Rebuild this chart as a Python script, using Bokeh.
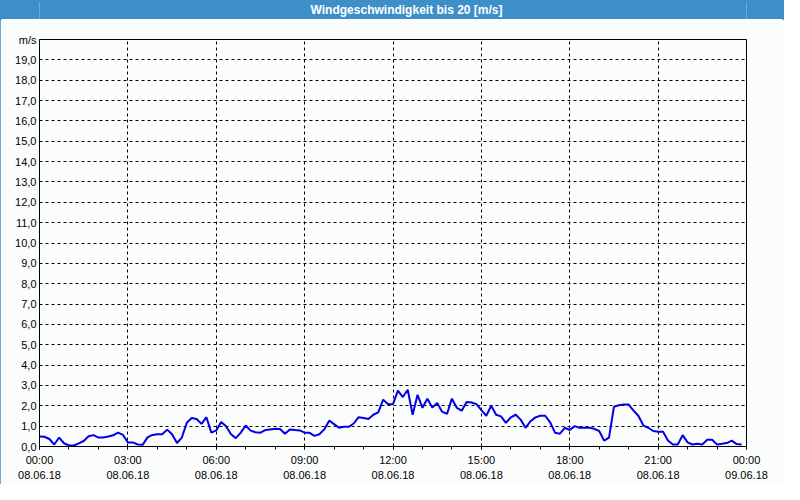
from bokeh.plotting import figure
from bokeh.layouts import column
from bokeh.models import FixedTicker, Range1d
from bokeh.core.properties import value
from bokeh.embed import file_html
from bokeh.resources import INLINE

title_text = "Windgeschwindigkeit bis 20 [m/s]"

times = [
    "00:00", "00:10", "00:20", "00:30", "00:40", "00:50",
    "01:00", "01:10", "01:20", "01:30", "01:40", "01:50",
    "02:00", "02:10", "02:20", "02:30", "02:40", "02:50",
    "03:00", "03:10", "03:20", "03:30", "03:40", "03:50",
    "04:00", "04:10", "04:20", "04:30", "04:40", "04:50",
    "05:00", "05:10", "05:20", "05:30", "05:40", "05:50",
    "06:00", "06:10", "06:20", "06:30", "06:40", "06:50",
    "07:00", "07:10", "07:20", "07:30", "07:40", "07:50",
    "08:00", "08:10", "08:20", "08:30", "08:40", "08:50",
    "09:00", "09:10", "09:20", "09:30", "09:40", "09:50",
    "10:00", "10:10", "10:20", "10:30", "10:40", "10:50",
    "11:00", "11:10", "11:20", "11:30", "11:40", "11:50",
    "12:00", "12:10", "12:20", "12:30", "12:40", "12:50",
    "13:00", "13:10", "13:20", "13:30", "13:40", "13:50",
    "14:00", "14:10", "14:20", "14:30", "14:40", "14:50",
    "15:00", "15:10", "15:20", "15:30", "15:40", "15:50",
    "16:00", "16:10", "16:20", "16:30", "16:40", "16:50",
    "17:00", "17:10", "17:20", "17:30", "17:40", "17:50",
    "18:00", "18:10", "18:20", "18:30", "18:40", "18:50",
    "19:00", "19:10", "19:20", "19:30", "19:40", "19:50",
    "20:00", "20:10", "20:20", "20:30", "20:40", "20:50",
    "21:00", "21:10", "21:20", "21:30", "21:40", "21:50",
    "22:00", "22:10", "22:20", "22:30", "22:40", "22:50",
    "23:00", "23:10", "23:20", "23:30", "23:40", "23:50",
]

speeds = [
    0.49, 0.48, 0.37, 0.10, 0.44, 0.16,
    0.05, 0.05, 0.15, 0.27, 0.50, 0.56,
    0.44, 0.44, 0.49, 0.55, 0.68, 0.57,
    0.20, 0.20, 0.10, 0.08, 0.45, 0.57,
    0.60, 0.60, 0.83, 0.60, 0.17, 0.44,
    1.17, 1.40, 1.35, 1.11, 1.44, 0.68,
    0.79, 1.20, 1.00, 0.60, 0.41, 0.68,
    1.03, 0.78, 0.70, 0.68, 0.81, 0.84,
    0.87, 0.86, 0.63, 0.84, 0.81, 0.79,
    0.68, 0.67, 0.52, 0.60, 0.84, 1.27,
    1.10, 0.92, 0.97, 0.97, 1.13, 1.44,
    1.40, 1.35, 1.56, 1.68, 2.30, 2.08,
    2.08, 2.75, 2.43, 2.79, 1.56, 2.54,
    1.90, 2.35, 1.92, 2.14, 1.71, 1.60,
    2.35, 1.90, 1.76, 2.19, 2.16, 2.08,
    1.79, 1.51, 2.00, 1.56, 1.48, 1.16,
    1.43, 1.56, 1.32, 0.92, 1.24, 1.43,
    1.51, 1.51, 1.19, 0.68, 0.63, 0.92,
    0.81, 1.00, 0.92, 0.92, 0.92, 0.87,
    0.76, 0.29, 0.44, 1.95, 2.03, 2.06,
    2.06, 1.76, 1.50, 1.03, 0.92, 0.76,
    0.73, 0.73, 0.30, 0.10, 0.10, 0.56,
    0.20, 0.10, 0.14, 0.10, 0.33, 0.33,
    0.10, 0.13, 0.17, 0.29, 0.12, 0.10,
]

x_tick_hours = [0, 3, 6, 9, 12, 15, 18, 21, 24]
x_tick_labels = [
    "00:00\n08.06.18", "03:00\n08.06.18", "06:00\n08.06.18",
    "09:00\n08.06.18", "12:00\n08.06.18", "15:00\n08.06.18",
    "18:00\n08.06.18", "21:00\n08.06.18", "00:00\n09.06.18",
]
x_minor_hours = list(range(0, 25))

y_ticks = list(range(0, 21))
y_tick_labels = [
    "0,0", "1,0", "2,0", "3,0", "4,0", "5,0", "6,0", "7,0", "8,0", "9,0",
    "10,0", "11,0", "12,0", "13,0", "14,0", "15,0", "16,0", "17,0", "18,0",
    "19,0", "m/s",
]

hours = [int(t[:2]) + int(t[3:]) / 60.0 for t in times]

BLUE = "#3d8fc7"
BG = "#fbfdfc"
FONT = "Liberation Sans"
W = 784
H = 484
TITLE_H = 19
MAIN_H = H - TITLE_H
FRAME_L, FRAME_R, FRAME_T, FRAME_B = 39, 746, 39, 446

# title bar
t = figure(width=W, height=TITLE_H, x_range=Range1d(0, W), y_range=Range1d(0, TITLE_H),
           toolbar_location=None, output_backend="svg",
           x_axis_location=None, y_axis_location=None,
           min_border=0)
t.grid.visible = False
t.outline_line_color = None
t.background_fill_color = BLUE
t.border_fill_color = BLUE
t.text(x=[407], y=[TITLE_H / 2], text=[title_text], text_align="center",
       text_baseline="middle", text_color="white", text_font_style="bold",
       text_font_size="12px", text_font=value(FONT))

# main chart
p = figure(width=W, height=MAIN_H, x_range=Range1d(0, 24), y_range=Range1d(0, 20),
           toolbar_location=None, output_backend="svg",
           min_border_left=FRAME_L, min_border_right=W - FRAME_R,
           min_border_top=FRAME_T - TITLE_H, min_border_bottom=H - FRAME_B)
p.background_fill_color = BG
p.border_fill_color = BG
p.outline_line_color = "black"
p.outline_line_width = 1

p.line(hours, speeds, line_color="#0000e8", line_width=2)

xt = FixedTicker(ticks=x_tick_hours, minor_ticks=x_minor_hours)
p.xaxis.ticker = xt
p.xaxis.major_label_overrides = {h: lab for h, lab in zip(x_tick_hours, x_tick_labels)}
p.xaxis.major_tick_out = 3
p.xaxis.major_tick_in = 0
p.xaxis.minor_tick_out = 3
p.xaxis.minor_tick_in = 0
p.xaxis.major_label_standoff = 4
p.xaxis.major_label_text_line_height = 1.3
p.xaxis.axis_line_color = "black"

yt = FixedTicker(ticks=y_ticks, minor_ticks=[])
p.yaxis.ticker = yt
p.yaxis.major_label_overrides = {v: lab for v, lab in zip(y_ticks, y_tick_labels)}
p.yaxis.major_tick_out = 0
p.yaxis.major_tick_in = 0
p.yaxis.minor_tick_out = 0
p.yaxis.minor_tick_in = 0
p.yaxis.major_label_standoff = 3
p.yaxis.axis_line_color = "black"

for ax in (p.xaxis, p.yaxis):
    ax.major_label_text_font = FONT
    ax.major_label_text_font_size = "11px"
    ax.major_label_text_color = "black"

p.xgrid.ticker = xt
p.ygrid.ticker = yt
for g in (p.xgrid, p.ygrid):
    g.grid_line_color = "black"
    g.grid_line_dash = "3 3"
    g.grid_line_width = 1

layout = column(t, p, spacing=0,
                styles={"outline": "2px solid " + BLUE, "outline-offset": "-2px"})

open("out.html", "w").write(file_html(layout, INLINE, title=title_text))
